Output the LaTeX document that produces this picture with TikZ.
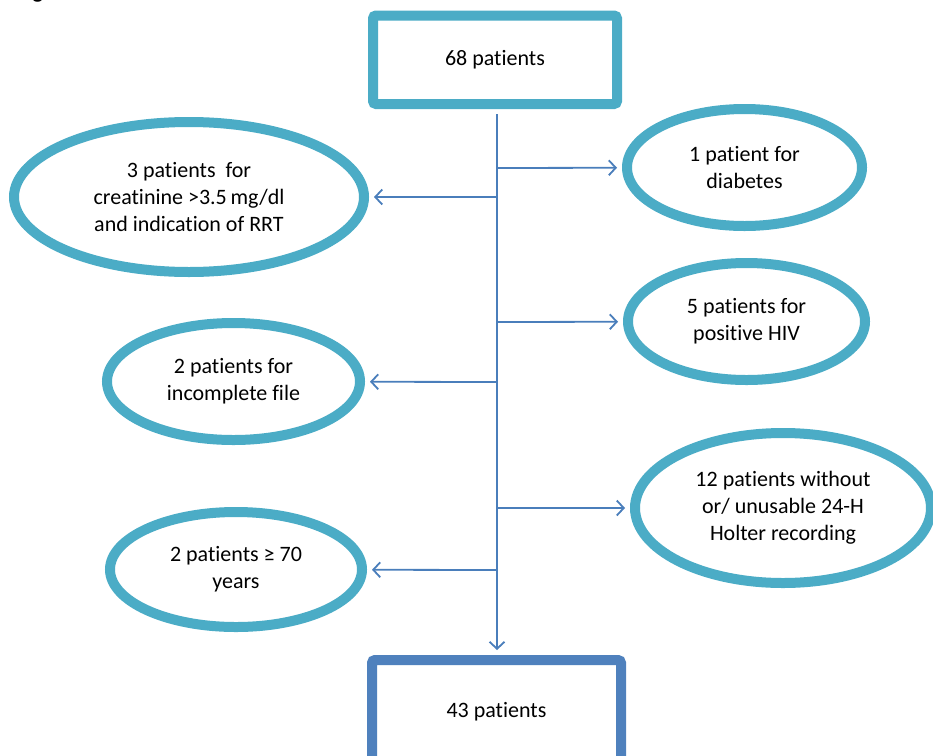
\documentclass[tikz,border=0pt]{standalone}
\usepackage{fontspec}
\setmainfont{Carlito}[Ligatures=NoCommon]
\usetikzlibrary{shapes.geometric,arrows.meta}
\definecolor{teal1}{HTML}{4BACC6}
\definecolor{line1}{HTML}{4A7EBB}
\definecolor{blue1}{HTML}{4F81BD}
\begin{document}
\begin{tikzpicture}[x=1pt,y=1pt, font=\fontsize{22}{27}\selectfont,
  ell/.style={ellipse, draw=teal1, line width=10pt, inner sep=0pt, align=center, fill=white},
  boxA/.style={rectangle, rounded corners=3pt, draw=teal1, line width=10pt, align=center, fill=white},
  arr/.style={draw=line1, line width=1.8pt, -{Straight Barb[length=7pt,width=15pt,line width=1.8pt]}, shorten >=5pt}]
\useasboundingbox (0,0) rectangle (933,-755);
\clip (0,0) rectangle (933,-755);
\node[anchor=base west, inner sep=0pt, font=\fontsize{22}{27}\selectfont\bfseries] (fig) at (17,1.5) {Figure};
\node[boxA, minimum width=244pt, minimum height=88.5pt] (top) at (495,-59.75) {68 patients};
\node[boxA, draw=blue1, minimum width=249pt, minimum height=104pt] (bot) at (496.5,-712) {43 patients};
\node[ell, minimum width=350pt, minimum height=150pt] (cre) at (189,-197) {3 patients\ \ for\\creatinine >3.5\,mg/dl\\and indication of RRT};
\node[ell, minimum width=235pt, minimum height=117pt] (dia) at (744.5,-167.5) {1 patient for\\diabetes};
\node[ell, minimum width=237pt, minimum height=117pt] (hiv) at (746.5,-321.5) {5 patients for\\positive HIV};
\node[ell, minimum width=253pt, minimum height=117pt] (inc) at (233.5,-381.5) {2 patients for\\incomplete file};
\node[ell, minimum width=296pt, minimum height=150pt] (hol) at (783,-508) {12 patients without\\or/ unusable 24-H\\Holter recording};
\node[ell, minimum width=252pt, minimum height=115pt] (age) at (236,-569.5) {2 patients ≥ 70\\years};
\coordinate (v1) at (497,-168);
\coordinate (v2) at (497,-197);
\coordinate (v3) at (497,-322);
\coordinate (v4) at (497,-382);
\coordinate (v5) at (497,-508);
\coordinate (v6) at (497,-570);
\draw[arr, shorten <=5pt] (v1 |- top.south) -- (v1 |- bot.north);
\draw[arr] (v1) -- (dia);
\draw[arr] (v2) -- (cre);
\draw[arr] (v3) -- (hiv);
\draw[arr] (v4) -- (inc);
\draw[arr] (v5) -- (hol);
\draw[arr] (v6) -- (age);
\end{tikzpicture}
\end{document}
